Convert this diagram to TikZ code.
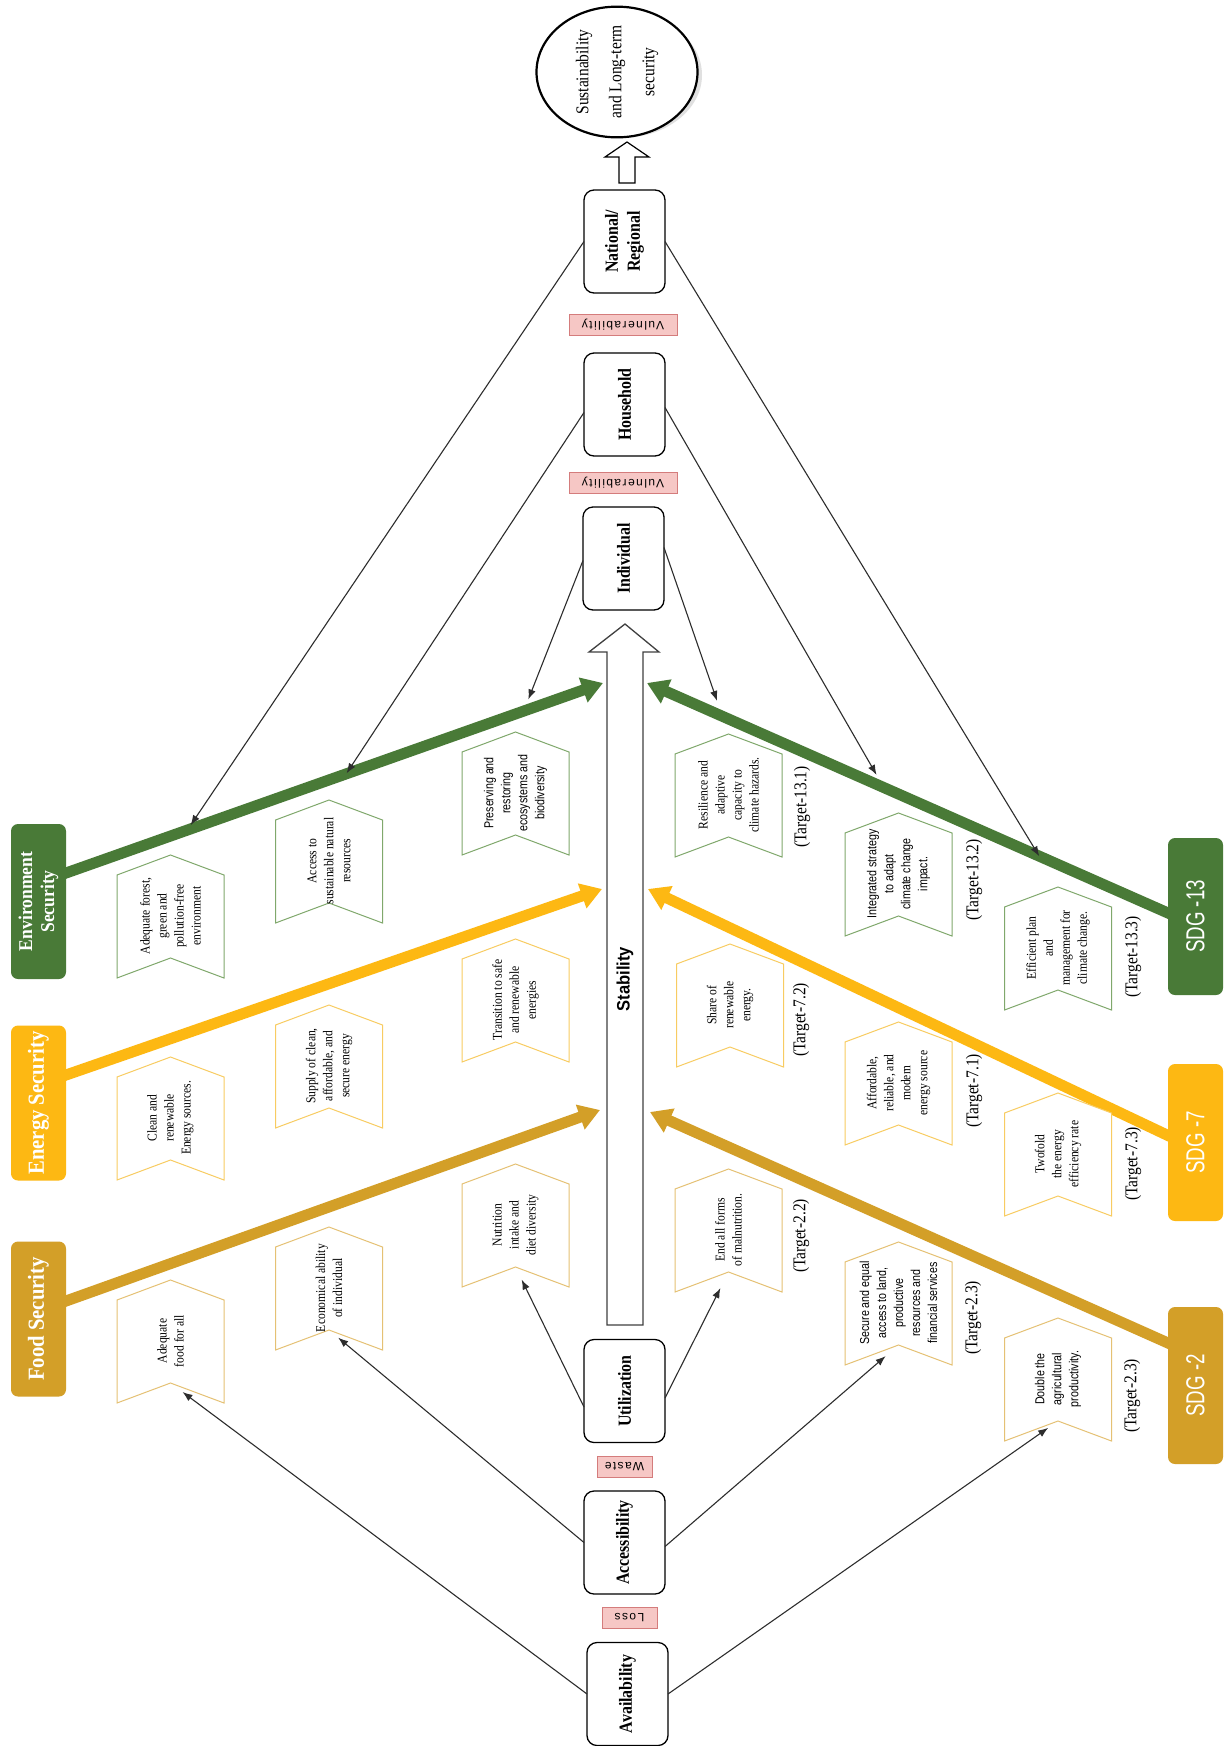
\documentclass[tikz,border=0pt]{standalone}
\usepackage{fontspec}
\setmainfont{Liberation Serif}
\newfontfamily\serc{Liberation Serif}[FakeStretch=0.86]
\newfontfamily\serw{Liberation Serif}[FakeStretch=0.9]
\newfontfamily\sanc{Liberation Sans}[FakeStretch=0.82]
\newfontfamily\sanb{Liberation Sans}[FakeStretch=0.92]
\newfontfamily\sdgf{Liberation Sans}[FakeStretch=0.72]
\newfontfamily\labf{Liberation Sans}[LetterSpace=12]
\usetikzlibrary{arrows.meta,calc,shapes.geometric}

\definecolor{envgreen}{RGB}{73,122,55}
\definecolor{engyellow}{RGB}{253,184,19}
\definecolor{foodgold}{RGB}{211,159,40}
\definecolor{envline}{RGB}{128,168,108}
\definecolor{engline}{RGB}{248,204,98}
\definecolor{foodline}{RGB}{229,193,116}
\definecolor{tagfill}{RGB}{246,199,197}
\definecolor{tagdraw}{RGB}{212,124,124}
\definecolor{conncol}{RGB}{45,45,45}

\pgfdeclarelayer{background}
\pgfsetlayers{background,main}

% chevron-shaped item box: name, centre x, tip y, outline colour, text style, text
\newcommand{\chevbox}[6]{%
  \draw[#4, line width=1pt, fill=white]
    (#2-53.5,#3+20) -- (#2,#3) -- (#2+53.5,#3+20) -- (#2+53.5,#3+123)
    -- (#2,#3+103) -- (#2-53.5,#3+123) -- cycle;
  \coordinate (#1-p) at (#2,#3);
  \coordinate (#1-n) at (#2,#3+103);
  \node[itemtext, #5] (#1) at (#2,#3+61) {#6};%
}

\begin{document}
\begin{tikzpicture}[x=1pt, y=-1pt,
  every node/.style={inner sep=0pt, outer sep=0pt},
  itemtext/.style={rotate=90, align=center},
  chser/.style={font=\serc\fontsize{13.5}{17}\selectfont},
  chsan/.style={font=\sanc\fontsize{13}{17}\selectfont},
  levelbox/.style={rotate=90, draw=black, line width=1.3pt, rounded corners=10pt, fill=white,
    minimum width=103pt, minimum height=81pt, align=center,
    font=\serc\bfseries\fontsize{18.5}{22}\selectfont},
  tagbox/.style={rotate=180, draw=tagdraw, line width=0.9pt, fill=tagfill,
    minimum height=21pt, font=\labf\fontsize{12}{14}\selectfont},
  secbox/.style={rotate=90, rounded corners=7pt, minimum width=155pt, minimum height=55pt,
    text=white, align=center, font=\serw\bfseries\fontsize{23}{25}\selectfont},
  sdgbox/.style={rotate=90, rounded corners=7pt, minimum width=157pt, minimum height=55pt,
    text=white, font=\sdgf\fontsize{26}{28}\selectfont},
  target/.style={rotate=90, font=\serc\fontsize{18}{20}\selectfont},
  connector/.style={draw=conncol, line width=1.1pt, -{Latex[length=10pt,width=7.5pt]}},
  pillar/.style={line width=11pt, shorten <=-10pt, -{Triangle[length=21pt,width=25pt]}}
]
\useasboundingbox (0,0) rectangle (1231,1746);

% ---------- goal ----------
\node[rotate=90, ellipse, draw=black, line width=2.2pt, fill=white,
  minimum width=125pt, minimum height=161pt, align=center,
  font=\serc\fontsize{18}{33}\selectfont] (goal) at (617,72)
  {Sustainability\\and Long-term\\security};
\draw[line width=1.2pt, fill=white]
  (619,183) -- (619,157) -- (605,157) -- (627,142) -- (649,157)
  -- (635,157) -- (635,183) -- cycle;

% ---------- levels ----------
\node[levelbox] (nat) at (624.5,241.5) {National/\\Regional};
\node[levelbox] (hh) at (624.5,404.5) {Household};
\node[levelbox] (ind) at (623.5,558.5) {Individual};
\node[levelbox] (util) at (624.5,1391) {Utilization};
\node[levelbox] (acc) at (624.5,1542.5) {Accessibility};
\node[levelbox] (avail) at (627.5,1694) {Availability};

\node[tagbox, minimum width=108pt] (vul1) at (623,324.5) {Vulnerability};
\node[tagbox, minimum width=108pt] (vul2) at (623,483) {Vulnerability};
\node[tagbox, minimum width=55pt] (waste) at (624.5,1466.5) {Waste};
\node[tagbox, minimum width=55pt] (loss) at (629.5,1617.5) {Loss};

% ---------- stability pillar ----------
\draw[line width=1.3pt, draw=black!75, fill=white]
  (607,1325) -- (607,652) -- (589,652) -- (625,624) -- (659,652)
  -- (643,652) -- (643,1325) -- cycle;
\node[rotate=90, font=\sanb\bfseries\fontsize{18}{20}\selectfont] (stab) at (625,979) {Stability};
\coordinate (tipEnvL) at (603,683);
\coordinate (tipEnvR) at (647,683);
\coordinate (tipEngL) at (602,889);
\coordinate (tipEngR) at (648,889);
\coordinate (tipFoodL) at (600,1110);
\coordinate (tipFoodR) at (650,1112);

% ---------- security dimensions and goals ----------
\node[secbox, fill=envgreen, font=\serw\bfseries\fontsize{19.5}{22}\selectfont] (env) at (38.5,901.5) {Environment\\Security};
\node[secbox, fill=engyellow] (eng) at (38.5,1103) {Energy Security};
\node[secbox, fill=foodgold] (food) at (38.5,1319) {Food Security};

\node[sdgbox, fill=envgreen] (sdg13) at (1195.5,916.5) {SDG -13};
\node[sdgbox, fill=engyellow] (sdg7) at (1195.5,1142.5) {SDG -7};
\node[sdgbox, fill=foodgold] (sdg2) at (1195.5,1385.5) {SDG -2};

% ---------- items ----------
\chevbox{forest}{170.5}{855}{envline}{chser}{Adequate forest,\\green and\\pollution-free\\environment}
\chevbox{clean}{170.5}{1057}{engline}{chser}{Clean and\\renewable\\Energy sources.}
\chevbox{foodall}{170.5}{1280}{foodline}{chser}{Adequate\\food for all}

\chevbox{access}{329}{800}{envline}{chser}{Access to\\sustainable natural\\resources}
\chevbox{supply}{329}{1005}{engline}{chser}{Supply of clean,\\affordable, and\\secure energy}
\chevbox{econ}{329}{1227}{foodline}{chser}{Economical ability\\of individual}

\chevbox{preserve}{515.5}{732}{envline}{chsan}{Preserving and\\restoring\\ecosystems and\\biodiversity}
\chevbox{transition}{515.5}{939}{engline}{chser}{Transition to safe\\and renewable\\energies}
\chevbox{nutrition}{515.5}{1164}{foodline}{chser}{Nutrition\\intake and\\diet diversity}

\chevbox{resil}{728.5}{734}{envline}{chser}{Resilience and\\adaptive\\capacity to\\climate hazards.}
\chevbox{share}{730}{944}{engline}{chser}{Share of\\renewable\\energy.}
\chevbox{endall}{728.5}{1169}{foodline}{chser}{End all forms\\of malnutrition.}

\chevbox{integ}{898.5}{813}{envline}{chsan}{Integrated strategy\\to adapt\\climate change\\impact.}
\chevbox{afford}{898.5}{1022}{engline}{chser}{Affordable,\\reliable, and\\modern\\energy source}
\chevbox{secure}{898.5}{1242}{foodline}{chsan}{Secure and equal\\access  to land,\\productive\\resources and\\financial services}

\chevbox{effic}{1058}{887}{envline}{chser}{Efficient plan\\and\\management for\\climate change.}
\chevbox{twofold}{1058}{1093}{engline}{chser}{Twofold\\the energy\\efficiency rate}
\chevbox{double}{1058}{1318}{foodline}{chsan}{Double the\\agricultural\\productivity.}

% ---------- target labels ----------
\node[target] (t131) at (802,807) {(Target-13.1)};
\node[target] (t72) at (801,1020) {(Target-7.2)};
\node[target] (t22) at (801,1236) {(Target-2.2)};
\node[target] (t132) at (974,880) {(Target-13.2)};
\node[target] (t71) at (974,1091) {(Target-7.1)};
\node[target] (t23a) at (973,1318) {(Target-2.3)};
\node[target] (t133) at (1133,957) {(Target-13.3)};
\node[target] (t73) at (1133,1164) {(Target-7.3)};
\node[target] (t23b) at (1132,1396) {(Target-2.3)};

% ---------- level-to-item links ----------
\draw[connector, shorten >=36pt] (nat.north) -- (forest-p);
\draw[connector, shorten >=32pt] ($(hh.north)+(0,8)$) -- (access-p);
\draw[connector, shorten >=35pt] ($(ind.north)+(0,2)$) -- (preserve-p);
\draw[connector, shorten >=35pt] ($(ind.south)+(0,-11)$) -- (resil-p);
\draw[connector, shorten >=44pt] ($(hh.south)+(0,3)$) -- (integ-p);
\draw[connector, shorten >=36pt] (nat.south) -- (effic-p);
\draw[connector, shorten >=14pt] ($(util.north)+(0,16)$) -- (nutrition-n);
\draw[connector, shorten >=18pt] ($(util.south)+(0,7)$) -- (endall-n);
\draw[connector, shorten >=12pt] (acc.north) -- (econ-n);
\draw[connector, shorten >=17pt] ($(acc.south)+(0,4)$) -- (secure-n);
\draw[connector, shorten >=15pt] (avail.north) -- (foodall-n);
\draw[connector, shorten >=12pt] (avail.south) -- (double-n);

% ---------- page, thick pillars and shadow, behind everything ----------
\begin{pgfonlayer}{background}
  \fill[white] (0,0) rectangle (1231,1746);
  \fill[black!12] (621,75) ellipse [x radius=81, y radius=63];
  \draw[pillar, envgreen] ($(env.south)+(0,-28.5)$) -- (tipEnvL);
  \draw[pillar, engyellow] ($(eng.south)+(0,-28)$) -- (tipEngL);
  \draw[pillar, foodgold] ($(food.south)+(0,-18)$) -- (tipFoodL);
  \draw[pillar, envgreen] ($(sdg13.north)+(0,-3.5)$) -- (tipEnvR);
  \draw[pillar, engyellow] ($(sdg7.north)+(0,-7)$) -- (tipEngR);
  \draw[pillar, foodgold] ($(sdg2.north)+(0,-42.5)$) -- (tipFoodR);
\end{pgfonlayer}
\end{tikzpicture}
\end{document}
